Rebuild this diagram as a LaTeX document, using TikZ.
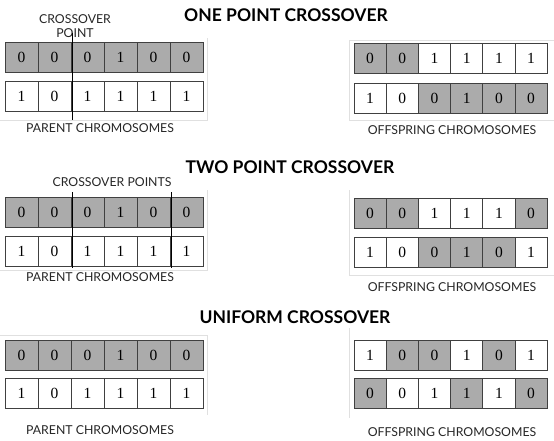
\documentclass[tikz,border=0pt]{standalone}
\usepackage{fontspec}
\setmainfont{Liberation Serif}
\newfontfamily\labelfont{Lato}
\begin{document}
\begin{tikzpicture}[x=1pt,y=-1pt]
\tikzstyle{cell}=[rectangle, draw=black!75, line width=0.8pt,
                  minimum width=33pt, minimum height=30pt,
                  inner sep=0pt, font=\fontsize{15.5}{15.5}\selectfont]
\tikzstyle{gr}=[cell, fill=black!33]
\tikzstyle{wh}=[cell, fill=white]
\tikzstyle{title}=[font=\labelfont\bfseries\fontsize{17.5}{17.5}\selectfont]
\tikzstyle{caption}=[font=\labelfont\fontsize{12.3}{13.5}\selectfont,
                     text=black!85, align=center, inner sep=1pt]
\tikzstyle{frame}=[draw=black!12, line width=1pt]
\tikzstyle{cut}=[draw=black, line width=0.9pt]
\useasboundingbox (0,0) rectangle (554,440);

% one point crossover
\node[title] (t1) at (286,15) {ONE POINT CROSSOVER};
\draw[frame] (207,38) -- (207,120) -- (0,120);
\draw[frame] (554,40) -- (349,40) -- (349,120) -- (554,120);
\node[caption] (cp1) at (75,26) {CROSSOVER\\POINT};
\foreach \v/\s [count=\k] in {0/gr,0/gr,0/gr,1/gr,0/gr,0/gr}{\node[\s] (p1a\k) at (5+33*\k-16.5,57) {\v};}
\foreach \v/\s [count=\k] in {1/wh,0/wh,1/wh,1/wh,1/wh,1/wh}{\node[\s] (p1b\k) at (5+33*\k-16.5,96) {\v};}
\foreach \v/\s [count=\k] in {0/gr,0/gr,1/wh,1/wh,1/wh,1/wh}{\node[\s, minimum width=32.2pt] (o1a\k) at (354+32.2*\k-16.1,58) {\v};}
\foreach \v/\s [count=\k] in {1/wh,0/wh,0/gr,1/gr,0/gr,0/gr}{\node[\s, minimum width=32.2pt] (o1b\k) at (354+32.2*\k-16.1,98) {\v};}
\coordinate (x1t) at (72,33);
\coordinate (x1b) at (72,120);
\draw[cut] (x1t) -- (x1b);
\node[caption] (lp1) at (100,128) {PARENT CHROMOSOMES};
\node[caption] (lo1) at (452,130) {OFFSPRING CHROMOSOMES};

% two point crossover
\node[title] (t2) at (290,167) {TWO POINT CROSSOVER};
\draw[frame] (207,190) -- (207,270) -- (0,270);
\draw[frame] (349,190) -- (349,275) -- (554,275);
\node[caption] (cp2) at (112,182) {CROSSOVER POINTS};
\foreach \v/\s [count=\k] in {0/gr,0/gr,0/gr,1/gr,0/gr,0/gr}{\node[\s] (p2a\k) at (5+33*\k-16.5,212) {\v};}
\foreach \v/\s [count=\k] in {1/wh,0/wh,1/wh,1/wh,1/wh,1/wh}{\node[\s] (p2b\k) at (5+33*\k-16.5,251) {\v};}
\foreach \v/\s [count=\k] in {0/gr,0/gr,1/wh,1/wh,1/wh,0/gr}{\node[\s, minimum width=32.2pt] (o2a\k) at (354+32.2*\k-16.1,213) {\v};}
\foreach \v/\s [count=\k] in {1/wh,0/wh,0/gr,1/gr,0/gr,1/wh}{\node[\s, minimum width=32.2pt] (o2b\k) at (354+32.2*\k-16.1,252) {\v};}
\coordinate (x2t) at (72,192);
\coordinate (x2b) at (72,268);
\coordinate (x3t) at (171,192);
\coordinate (x3b) at (171,268);
\foreach \i/\j in {x2t/x2b, x3t/x3b}{\draw[cut] (\i) -- (\j);}
\node[caption] (lp2) at (100,277) {PARENT CHROMOSOMES};
\node[caption] (lo2) at (452,287) {OFFSPRING CHROMOSOMES};

% uniform crossover
\node[title] (t3) at (295,317) {UNIFORM CROSSOVER};
\draw[frame] (0,335) -- (207,335) -- (207,415);
\draw[frame] (349,328) -- (349,418);
\foreach \v/\s [count=\k] in {0/gr,0/gr,0/gr,1/gr,0/gr,0/gr}{\node[\s] (p3a\k) at (5+33*\k-16.5,355) {\v};}
\foreach \v/\s [count=\k] in {1/wh,0/wh,1/wh,1/wh,1/wh,1/wh}{\node[\s] (p3b\k) at (5+33*\k-16.5,393) {\v};}
\foreach \v/\s [count=\k] in {1/wh,0/gr,0/gr,1/wh,0/gr,1/wh}{\node[\s, minimum width=32.2pt] (o3a\k) at (354+32.2*\k-16.1,355) {\v};}
\foreach \v/\s [count=\k] in {0/gr,0/wh,1/wh,1/gr,1/wh,0/gr}{\node[\s, minimum width=32.2pt] (o3b\k) at (354+32.2*\k-16.1,393) {\v};}
\node[caption] (lp3) at (100,430) {PARENT CHROMOSOMES};
\node[caption] (lo3) at (452,432) {OFFSPRING CHROMOSOMES};
\end{tikzpicture}
\end{document}
